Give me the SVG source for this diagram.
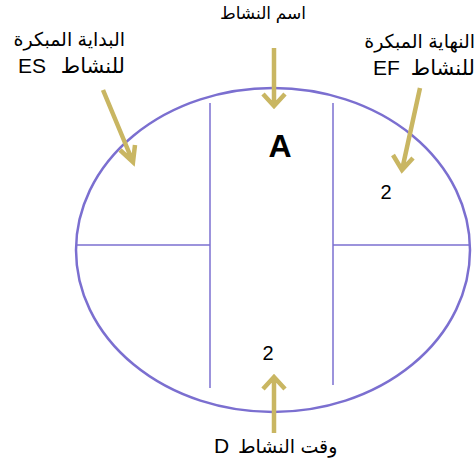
<svg xmlns="http://www.w3.org/2000/svg" width="475" height="466" viewBox="0 0 475 466">
<style>
.shape{fill:none;stroke:#7b6fd0;stroke-width:2.5}
.line{fill:none;stroke:#7b6fd0;stroke-width:1.5}
.arr{fill:none;stroke:#c9b662;stroke-width:4.5;stroke-linecap:butt;stroke-linejoin:miter}
text{font-family:"Liberation Sans","DejaVu Sans",sans-serif;fill:#000}
.lbl{font-size:19px}
.lat{font-size:21px}
.num{font-size:20px}
</style>
<rect width="475" height="466" fill="#fff"/>
<g id="node-activity">
<ellipse class="shape" cx="273" cy="250" rx="197" ry="162"/>
<line class="line" x1="210" y1="103" x2="210" y2="388"/>
<line class="line" x1="333" y1="103" x2="333" y2="385"/>
<line class="line" x1="77" y1="245" x2="210" y2="245"/>
<line class="line" x1="333" y1="245" x2="469" y2="245"/>
<text x="280" y="157" text-anchor="middle" font-size="32" font-weight="bold">A</text>
<text class="num" x="386" y="199" text-anchor="middle">2</text>
<text class="num" x="268" y="360" text-anchor="middle">2</text>
</g>
<g id="label-name"><text x="263" y="19" text-anchor="middle" font-size="17">اسم النشاط</text></g>
<g id="label-es">
<text class="lbl" x="125" y="46" text-anchor="end">البداية المبكرة</text>
<text class="lbl" y="73"><tspan class="lat" x="18">ES</tspan><tspan x="125" text-anchor="end" font-size="21">للنشاط</tspan></text>
</g>
<g id="label-ef">
<text class="lbl" x="475" y="48" text-anchor="end">النهاية المبكرة</text>
<text class="lbl" y="75"><tspan class="lat" x="373">EF</tspan><tspan x="475" text-anchor="end" font-size="21">للنشاط</tspan></text>
</g>
<g id="label-d"><text class="lbl" y="453"><tspan class="lat" x="214">D</tspan><tspan x="238">وقت النشاط</tspan></text></g>
<g id="connectors">
<path class="arr" d="M274 48 V106 M263 94 L274 106 L285 94"/>
<path class="arr" d="M103 90 L133 162 M120 150 L133 162 L135 145"/>
<path class="arr" d="M420 88 L402 170 M393 155 L402 170 L413 158"/>
<path class="arr" d="M274 433 V377 M263 389 L274 377 L285 389"/>
</g>
</svg>
